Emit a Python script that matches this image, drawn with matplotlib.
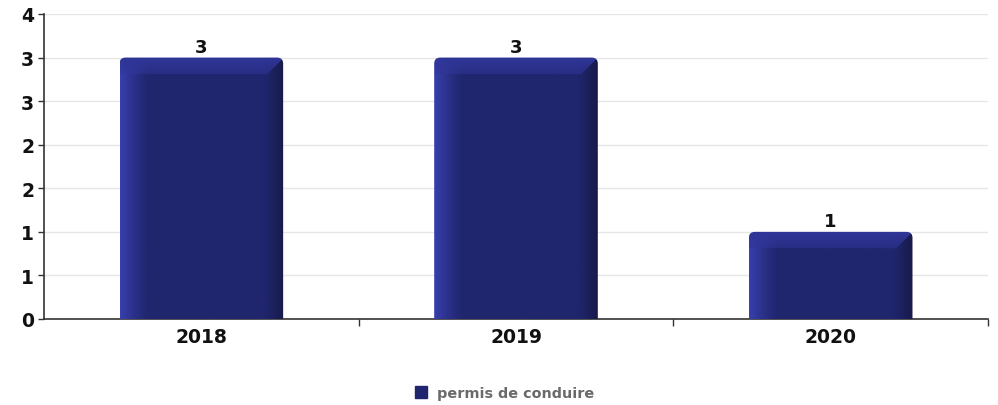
import numpy as np
import matplotlib
matplotlib.use("Agg")
from matplotlib import pyplot as plt
from matplotlib.patches import FancyBboxPatch
from matplotlib.lines import Line2D

plt.rcParams["font.family"] = ["DejaVu Sans"]

# data
years = ["2018", "2019", "2020"]
counts = [3, 3, 1]
series_name = "permis de conduire"
y_ticks = [0, 0.5, 1, 1.5, 2, 2.5, 3, 3.5]
y_labels = ["0", "1", "1", "2", "2", "3", "3", "4"]

W, H = 998, 406
fig = plt.figure(figsize=(W / 100, H / 100), dpi=100)
ax = fig.add_axes([44 / W, (H - 320) / H, 944 / W, 305 / H])

ax.set_xlim(-0.5, len(years) - 0.5)
ax.set_ylim(0, 3.5)

bar_w = 0.52
px_x = 944 / len(years)   # pixels per category
px_y = 305 / 3.5          # pixels per unit

center = np.array([32, 38, 110]) / 255
left_c = np.array([56, 63, 172]) / 255
top_c = np.array([48, 54, 152]) / 255
right_c = np.array([23, 26, 72]) / 255


def bar_image(wp, hp, bev=17):
    r = np.arange(hp)[:, None] * np.ones((1, wp))
    c = np.ones((hp, 1)) * np.arange(wp)[None, :]
    dl, dr, dt = c, wp - 1 - c, r
    img = np.ones((hp, wp, 3)) * center
    # left face: gradient from edge toward centre
    tl = np.clip(1 - dl / 28, 0, 1)[..., None] ** 1.2
    img = img * (1 - tl) + left_c * tl
    # right face
    tr = np.clip(1 - dr / 20, 0, 1)[..., None] ** 1.2
    img = img * (1 - tr) + right_c * tr
    # top face with diagonal corners
    top = (dt < bev) & (dt <= dr)
    tt = (np.clip(1 - dt / bev, 0, 1) * 0.5 + 0.5)[..., None]
    img = np.where(top[..., None], img * (1 - tt) + top_c * tt, img)
    return img


for i, v in enumerate(counts):
    x0 = i - bar_w / 2
    wp, hp = int(bar_w * px_x), int(v * px_y)
    img = bar_image(wp, hp)
    im = ax.imshow(img, extent=(x0, x0 + bar_w, 0, v), aspect="auto",
                   interpolation="bilinear", zorder=3)
    rs = 6 / px_x
    clip = FancyBboxPatch((x0, -0.3), bar_w, v + 0.3,
                          boxstyle=f"round,pad=0,rounding_size={rs}",
                          mutation_aspect=px_x / px_y,
                          facecolor="none", edgecolor="none",
                          transform=ax.transData)
    ax.add_patch(clip)
    im.set_clip_path(clip)
    ax.text(i, v + 0.02, str(v), ha="center", va="bottom",
            fontsize=13, fontweight="bold", color="#111111")

ax.set_yticks(y_ticks)
ax.set_yticklabels(y_labels, fontsize=13.5, fontweight="bold", color="#111111")
ax.set_xticks(range(len(years)))
ax.set_xticklabels(years, fontsize=13.5, fontweight="bold", color="#111111")
ax.tick_params(axis="x", length=0, pad=6)
ax.tick_params(axis="y", length=4, width=1, color="#333333", pad=3)
ax.set_xticks([0.5, 1.5, 2.5], minor=True)
ax.tick_params(axis="x", which="minor", length=5, width=1, color="#333333")

ax.grid(axis="y", color="#e6e6e6", linewidth=1, zorder=0)
ax.set_axisbelow(True)
for s in ["top", "right"]:
    ax.spines[s].set_visible(False)
for s in ["left", "bottom"]:
    ax.spines[s].set_color("#333333")
    ax.spines[s].set_linewidth(1.2)

handle = Line2D([], [], marker="s", linestyle="none", markersize=8.5,
                markerfacecolor="#20266e", markeredgecolor="#20266e")
fig.legend([handle], [series_name], loc="center", bbox_to_anchor=(0.504, 1 - 394 / H),
           frameon=False, handletextpad=0.5, handlelength=1.2,
           prop={"size": 10.4, "weight": "bold"},
           labelcolor="#6a6a6a")

fig.savefig("out.png", dpi=100)
